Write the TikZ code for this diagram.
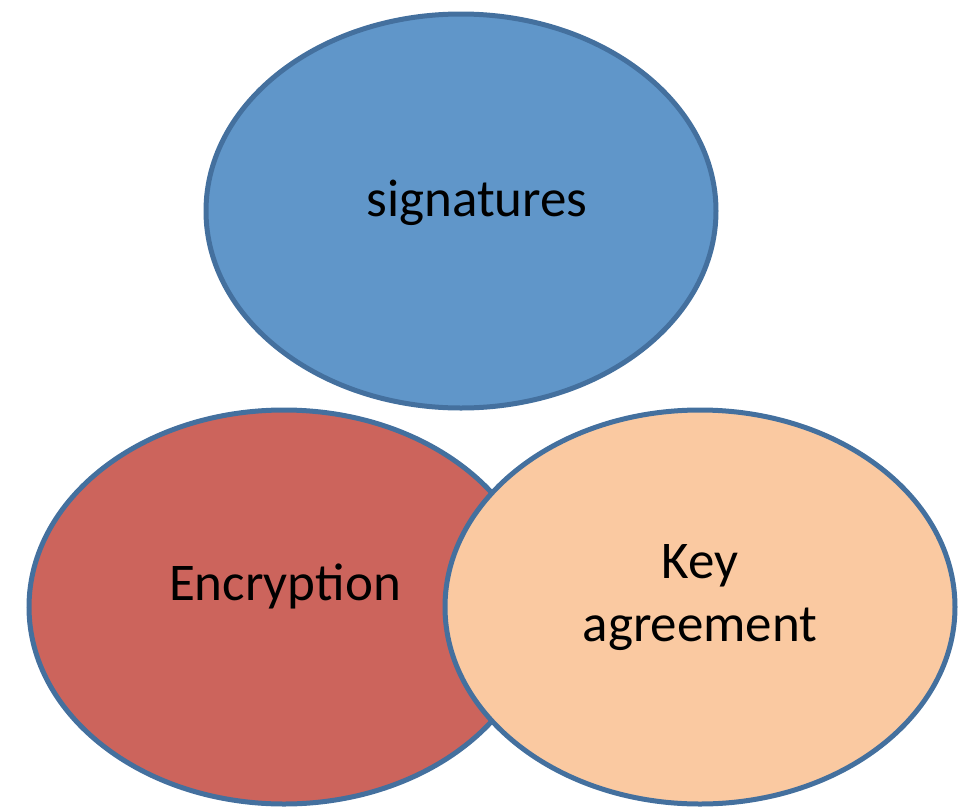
\documentclass[tikz,border=0pt]{standalone}
\usepackage{fontspec}
\setmainfont{Carlito}
\definecolor{cblue}{RGB}{96,150,201}
\definecolor{cred}{RGB}{204,100,92}
\definecolor{cpeach}{RGB}{250,201,161}
\definecolor{cstroke}{RGB}{68,112,158}
\tikzset{
  blob/.style={draw=cstroke, line width=5pt},
  lbl/.style={font=\fontsize{53}{63}\selectfont, text=black, align=center, inner sep=0pt}
}
\begin{document}
\begin{tikzpicture}[x=1pt,y=-1pt]
\useasboundingbox (0,0) rectangle (962,809);
\draw[blob, fill=cblue] (461,211) ellipse [x radius=255, y radius=197];
\draw[blob, fill=cred] (284,607) ellipse [x radius=255, y radius=197];
\draw[blob, fill=cpeach] (700,607) ellipse [x radius=255, y radius=197];
\node[lbl] (sig) at (477,203) {signatures};
\node[lbl] (enc) at (285,586) {Encryption};
\node[lbl] (key) at (700,598) {Key\\agreement};
\end{tikzpicture}
\end{document}
